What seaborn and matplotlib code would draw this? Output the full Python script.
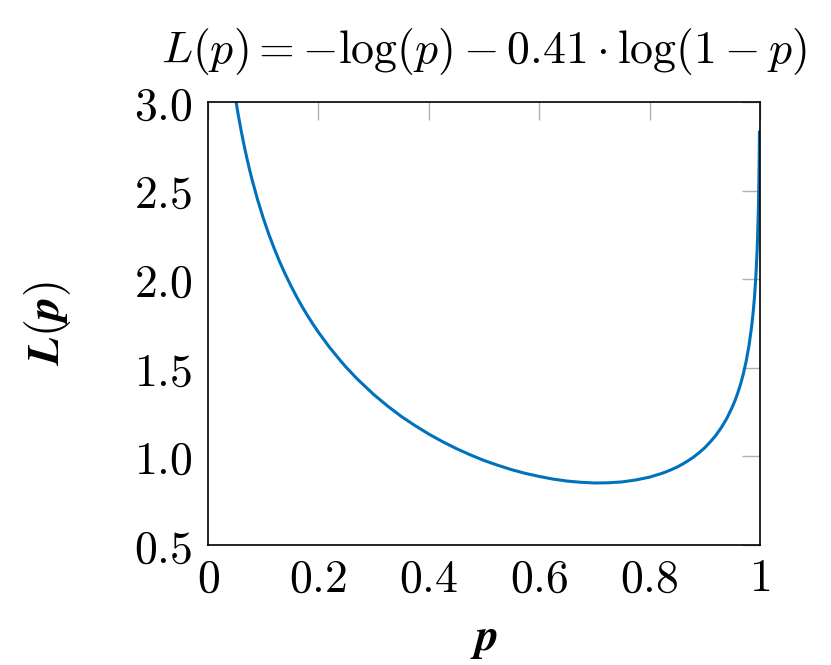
import matplotlib
matplotlib.use("Agg")
import matplotlib.pyplot as plt
import numpy as np
import pandas as pd
import seaborn as sns

# values
p_vals = [0.05, 0.055, 0.06, 0.065, 0.07, 0.075, 0.08, 0.09, 0.10, 0.11,
          0.12, 0.13, 0.14, 0.15, 0.16, 0.17, 0.18, 0.19, 0.20, 0.22, 0.24,
          0.25, 0.27, 0.30, 0.325, 0.35, 0.375, 0.40, 0.425, 0.45, 0.475,
          0.50, 0.525, 0.55, 0.575, 0.60, 0.625, 0.65, 0.675, 0.70, 0.725,
          0.75, 0.775, 0.80, 0.82, 0.83, 0.84, 0.85, 0.86, 0.87, 0.88, 0.89,
          0.90, 0.91, 0.92, 0.93, 0.94, 0.95, 0.955, 0.96, 0.965, 0.97,
          0.975, 0.98, 0.985, 0.9875, 0.99, 0.9925, 0.995, 0.997, 0.998,
          0.9985, 0.999]
L_vals = [3.017, 2.924, 2.839, 2.761, 2.689, 2.622, 2.560, 2.447, 2.346,
          2.255, 2.173, 2.097, 2.028, 1.964, 1.904, 1.848, 1.796, 1.747,
          1.701, 1.616, 1.540, 1.504, 1.438, 1.350, 1.285, 1.226, 1.174,
          1.126, 1.083, 1.044, 1.009, 0.977, 0.950, 0.925, 0.904, 0.887,
          0.872, 0.861, 0.854, 0.850, 0.851, 0.856, 0.867, 0.883, 0.902,
          0.913, 0.926, 0.940, 0.957, 0.976, 0.997, 1.022, 1.049, 1.082,
          1.119, 1.163, 1.215, 1.280, 1.317, 1.361, 1.410, 1.468, 1.538,
          1.624, 1.737, 1.809, 1.898, 2.014, 2.177, 2.385, 2.550, 2.667,
          2.833]

x_ticks = [0, 0.2, 0.4, 0.6, 0.8, 1]
x_labels = ["0", "0.2", "0.4", "0.6", "0.8", "1"]
y_ticks = [0.5, 1.0, 1.5, 2.0, 2.5, 3.0]
y_labels = ["0.5", "1.0", "1.5", "2.0", "2.5", "3.0"]

df = pd.DataFrame({"p": p_vals, "L": L_vals})

sns.set_theme(style="white")
plt.rcParams["mathtext.fontset"] = "cm"
plt.rcParams["font.family"] = ["DejaVu Serif"]
plt.rcParams["text.color"] = "black"
plt.rcParams["axes.labelcolor"] = "black"
plt.rcParams["xtick.color"] = "black"
plt.rcParams["ytick.color"] = "black"

fig = plt.figure(figsize=(8.31, 6.65), dpi=100)
ax = fig.add_axes([208 / 831, 1 - 545 / 665, 552 / 831, 443 / 665])

sns.lineplot(data=df, x="p", y="L", ax=ax, color="#0072BD", linewidth=2.2,
             sort=False, estimator=None)

ax.set_xlim(0, 1)
ax.set_ylim(0.5, 3.0)
ax.set_xticks(x_ticks, ["$" + s + "$" for s in x_labels])
ax.set_yticks(y_ticks, ["$" + s + "$" for s in y_labels])
ax.tick_params(axis="both", direction="in", length=13, width=1.0,
               color="#b0b0b0", labelcolor="black", labelsize=33,
               top=True, right=True)
ax.tick_params(axis="y", pad=11)
ax.tick_params(axis="x", pad=8)
for s in ax.spines.values():
    s.set_color("black")
    s.set_linewidth(1.2)

ax.set_xlabel(r"$\boldsymbol{p}$", fontsize=33)
ax.set_ylabel(r"$\boldsymbol{L(p)}$", fontsize=33)
ax.xaxis.set_label_coords(0.5, -0.16)
ax.yaxis.set_label_coords(-0.245, 0.5)
ax.set_title(r"$L(p) = -\log(p) - 0.41\cdot\log(1-p)$", fontsize=33, pad=28)

fig.savefig("out.png", dpi=100)
